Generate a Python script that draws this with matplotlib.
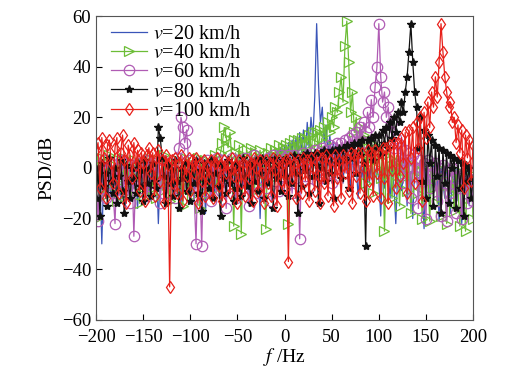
"""
PSD of the signal for five vehicle speeds.
"""

from matplotlib import pyplot as plt
import numpy as np

plt.rcParams['font.family'] = ['Liberation Serif', 'DejaVu Serif']
plt.rcParams['mathtext.fontset'] = 'stix'

#frequency bins, 2 Hz apart from -200 Hz to 200 Hz
freq = np.arange(-200, 201, 2)

#v = 20 km/h (one row = 20 Hz)
psd_20 = [
    -6, 1, -4, -30, -2, -9, 2, -5, -12, 0,
    -3, -8, 3, -14, -1, -6, 2, -10, -4, 1,
    -7, -2, -16, 2, -5, -9, 0, -3, -12, 3,
    -4, -8, 1, -22, -2, -6, 3, -9, -1, -5,
    2, -11, -3, 0, -7, -15, 1, -4, -8, 2,
    -5, -2, -13, 3, -6, -1, -9, 2, -18, -3,
    1, -7, -2, -10, 3, -4, -12, 0, -6, 2,
    -3, -9, 3, -1, -14, 2, -5, 0, -8, 4,
    -2, -6, 4, -11, 1, -4, 5, -20, 2, -3,
    5, -2, 6, -7, 4, 0, 7, -4, 8, 1,
    9, -2, 10, 2, 11, -1, 12, 4, 14, 6,
    15, 3, 18, 8, 20, 12, 28, 57, 33, 18,
    24, 10, 17, 6, 13, 2, 10, -4, 8, 0,
    6, -6, 5, -2, 4, -9, 3, -1, 2, -12,
    1, -4, 3, -16, 0, -6, 2, -10, -2, 1,
    -5, -19, 0, -8, 2, -3, -12, 1, -7, -22,
    -2, 0, -9, -4, 2, -15, -1, -6, -20, 0,
    -3, -11, 1, -7, -24, -2, 0, -14, -5, 1,
    -8, -3, -21, 0, -6, -12, 1, -4, -18, -2,
    -7, 0, -13, -3, -22, -1, -9, 0, -15, -4,
    -10,
]

#v = 40 km/h
psd_40 = [
    -20, 2, -6, 4, -11, 0, -4, 5, -9, 1,
    -5, -13, 3, -2, -8, 4, -10, 0, -6, -3,
    3, -9, -1, -14, 2, -5, 0, -11, 4, -3,
    -8, 1, -12, 3, -2, -9, 5, -6, 0, -13,
    2, -4, -10, 3, -7, 1, -15, 4, -3, -8,
    2, -11, 0, -5, 4, -16, 1, -7, 3, -4,
    -10, 2, -3, 5, -8, 0, 6, 10, 16, 12,
    8, 14, 3, -23, 6, -4, 9, -26, 5, 0,
    7, -3, 8, 1, -9, 6, 2, 7, -5, 3,
    -24, 6, 2, 8, -4, 7, 3, 9, 0, 8,
    4, 9, -22, 10, 5, 11, 2, 11, 7, 12,
    6, 12, 9, 13, 4, 14, 10, 14, 8, 15,
    12, 16, 10, 18, 14, 20, 16, 24, 22, 30,
    36, 26, 48, 58, 42, 22, 30, 14, 20, 8,
    16, 4, 13, -6, 11, 2, 10, -10, 9, 0,
    7, -4, 6, -25, 5, -2, 4, -12, 3, -6,
    2, -15, 3, -4, 1, -9, 2, -18, 0, -3,
    1, -10, -1, -20, 0, -6, -2, -21, -1, -8,
    0, -14, -3, -19, -1, -7, -22, -2, -10, -4,
    -17, -1, -8, -23, -2, -6, -25, -3, -12, -1,
    -20,
]

#v = 60 km/h
psd_60 = [
    -4, -21, 1, -8, 3, -12, -1, -6, 2, -10,
    -22, 0, -5, 3, -9, -2, 2, -7, -14, 1,
    -27, -3, 2, -8, 0, -5, 3, -11, -1, -6,
    2, -9, -3, 1, -14, 3, -6, 0, -10, 2,
    -5, -1, -12, 4, 8, 20, 16, 10, 15, 3,
    -7, 0, -11, -30, 2, -4, -31, 1, -9, 3,
    -2, -13, 2, -6, 4, -1, -9, 3, -4, -16,
    1, -7, 4, -2, -12, 3, -5, 0, -8, 4,
    -3, -15, 2, -6, 5, -1, -10, 3, -4, 0,
    -8, 4, -2, -13, 5, -5, 1, -9, 5, -3,
    4, -7, 5, -1, -10, 5, -4, 2, -28, 3,
    6, -3, 5, -8, 6, 0, 7, -5, 6, 2,
    8, -4, 7, 1, 9, -6, 8, 3, 10, 0,
    10, 4, 11, -2, 12, 6, 13, 3, 14, 8,
    16, 10, 18, 14, 22, 16, 27, 20, 32, 40,
    57, 36, 26, 30, 20, 24, 14, 18, 8, 12,
    10, 2, 8, -6, 7, 0, 6, -12, 5, -3,
    4, -16, 3, -5, 2, -20, 3, -8, 1, -2,
    2, -13, 0, -19, 1, -6, -21, -1, -10, 0,
    -4, -18, 0, -8, -20, -2, -5, -14, -1, -6,
    -13,
]

#v = 80 km/h
psd_80 = [
    -12, 0, -19, 2, -7, -2, -15, 4, -5, -10,
    0, -14, -3, 3, -9, -18, 1, -5, -12, 0,
    -4, -10, 2, -7, -1, -13, 3, -6, 0, -11,
    2, -5, -8, 16, 12, 4, -3, -14, 1, -6,
    -1, -11, 3, -5, -16, 0, -4, 2, -9, -2,
    -13, 1, -6, 3, -10, -1, -17, 2, -5, 0,
    -8, 3, -12, -2, 2, -7, -19, 1, -4, -10,
    3, -6, -1, -13, 2, -8, 0, -11, 4, -3,
    -7, 2, -14, 1, -5, 3, -9, -2, 4, -12,
    2, -6, 3, -1, -16, 4, -4, 1, -9, 3,
    -3, 4, -11, 2, -6, 5, -2, -18, 4, -7,
    5, -1, 6, -10, 4, -3, 6, 1, -14, 6,
    0, 7, -5, 6, -2, 7, -12, 7, 2, 8,
    -4, 8, 3, 9, -8, 8, 4, 10, -2, 10,
    5, 11, 2, -31, 11, 6, 12, 3, 13, 8,
    13, 5, 15, 10, 16, 8, 18, 12, 20, 14,
    22, 18, 26, 22, 30, 36, 46, 57, 42, 30,
    24, 8, 20, -5, 15, -12, 13, 2, 11, -15,
    9, -3, 8, -18, 7, -6, 6, -14, 5, 0,
    4, -16, 3, -8, 2, -19, 1, -5, 0, -12,
    -4,
]

#v = 100 km/h
psd_100 = [
    7, 10, -8, 12, 4, -12, 9, 11, 2, -6,
    8, 12, -10, 6, 13, 3, -14, 9, 5, -4,
    10, 1, 7, -9, 6, 2, -13, 5, 8, -2,
    6, -11, 4, 7, -5, 3, -14, 5, 1, -47,
    3, -6, 4, -10, 2, 5, -13, 1, -3, 4,
    -9, 3, -2, 4, -14, 2, -5, 3, -11, 1,
    -4, 3, -12, 2, 4, -7, 1, -13, 3, -2,
    2, -10, 4, -3, 1, -14, 3, -6, 2, -11,
    3, -4, 2, -13, 4, 0, -9, 3, -2, -14,
    3, -6, 2, -11, 4, -1, -15, 3, -5, 2,
    -8, 3, -37, 4, -4, 2, -12, 3, -1, -10,
    4, -5, 3, -13, 4, 0, -9, 5, -3, -14,
    4, -6, 5, -11, 3, -1, -15, 5, -4, 3,
    -12, 5, -2, 4, -9, 6, -14, 5, -3, 6,
    -10, 6, 0, -13, 7, -5, 6, -11, 7, -2,
    6, -12, 8, -4, 8, -14, 9, -1, 10, -8,
    10, -3, 12, 2, 14, -10, 15, 4, 16, -6,
    18, 8, 20, -13, 22, 12, 26, 16, 30, 24,
    36, 28, 42, 57, 46, 36, 30, 24, 26, 18,
    20, 10, 17, 6, 15, -8, 13, 4, 11, -5,
    9,
]

fig = plt.figure(figsize=[5.17, 3.74], dpi=100)
ax = fig.add_axes([0.186, 0.145, 0.729, 0.812])

lw = 0.9
ax.plot(freq, psd_20, color='#3a55b8', linewidth=lw, label=r'$v$=20 km/h')
ax.plot(freq, psd_40, color='#6cbd36', linewidth=lw, marker='>', markersize=6.5,
        fillstyle='none', markeredgewidth=0.9, label=r'$v$=40 km/h')
ax.plot(freq, psd_60, color='#b05cb4', linewidth=lw, marker='o', markersize=7.5,
        fillstyle='none', markeredgewidth=0.9, label=r'$v$=60 km/h')
ax.plot(freq, psd_80, color='#111111', linewidth=lw, marker='*', markersize=6,
        label=r'$v$=80 km/h')
ax.plot(freq, psd_100, color='#e8201a', linewidth=lw, marker='d', markersize=6.5,
        fillstyle='none', markeredgewidth=0.9, label=r'$v$=100 km/h')

ax.set_xlim(-200, 200)
ax.set_ylim(-60, 60)
ax.set_xticks(np.arange(-200, 201, 50))
ax.set_yticks(np.arange(-60, 61, 20))
ax.tick_params(direction='in', length=4, labelsize=13.5)
ax.tick_params(axis='x', pad=7)

ax.set_xlabel(r'$f$ /Hz', fontsize=14, labelpad=0)
ax.set_ylabel('PSD/dB', fontsize=14, labelpad=5)

for s in ax.spines.values():
    s.set_color('#555555')

ax.legend(loc='upper left', bbox_to_anchor=(0.015, 1.0), frameon=False,
          fontsize=14.5, handlelength=1.8, labelspacing=0.0,
          borderaxespad=0.05, handletextpad=0.3)

plt.savefig('out.png')
